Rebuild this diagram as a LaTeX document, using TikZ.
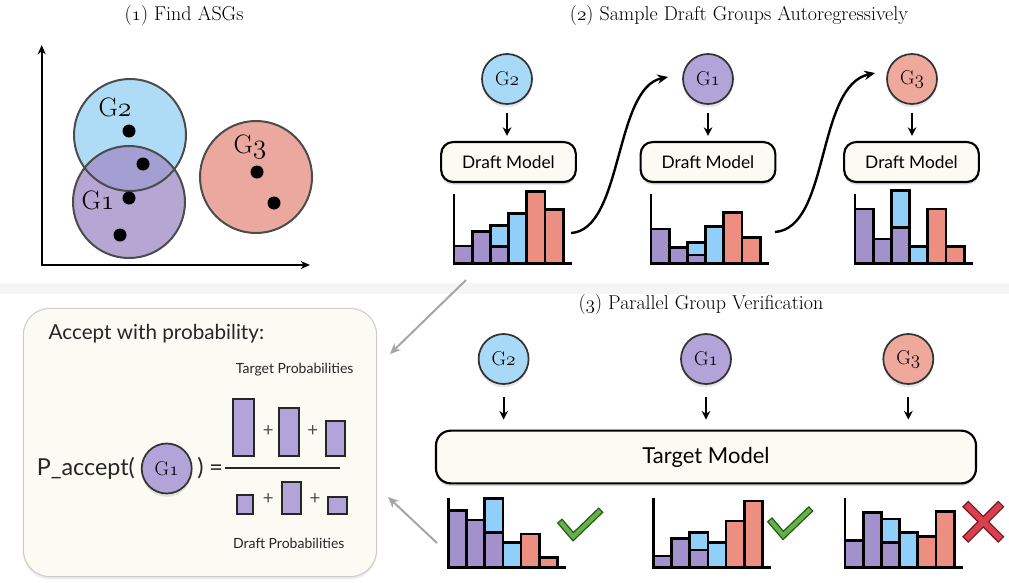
\documentclass[tikz,border=0pt]{standalone}
\usepackage{fontspec}
\setsansfont{Lato}
\usetikzlibrary{positioning,arrows.meta,shadows}
\definecolor{purp}{RGB}{163,145,204}
\definecolor{sky}{RGB}{143,207,250}
\definecolor{salm}{RGB}{236,143,128}
\definecolor{gblue}{RGB}{168,218,247}
\definecolor{gpurp}{RGB}{178,163,216}
\definecolor{gred}{RGB}{239,168,156}
\definecolor{pblue}{RGB}{174,220,246}
\definecolor{ppurp}{RGB}{162,144,201}
\definecolor{pred}{RGB}{234,168,158}
\definecolor{cream}{RGB}{251,251,244}
\definecolor{okgreen}{RGB}{98,178,70}
\definecolor{okdark}{RGB}{40,85,30}
\definecolor{nored}{RGB}{216,64,80}
\definecolor{nodark}{RGB}{110,25,35}
\newcommand{\osf}[1]{{\usefont{OML}{lmm}{m}{it}#1}}
% histogram: axis corner (#1,#2), bars as index/colour/height
\newcommand{\hist}[3]{%
  \foreach \i/\col/\h in {#3}
    \draw[hbar,fill=\col] ({#1+\i*18.2},#2) rectangle ++(18.2,-\h);
  \draw[haxis] (#1,#2-69) -- (#1,#2) -- (#1+118,#2);}
\newcommand{\okmark}[1]{\draw[okline] #1 -- ++(11.5,13.4) -- ++(25.5,-24.5);}

\begin{document}
\begin{tikzpicture}[x=0.75pt,y=-0.75pt,
 ttl/.style={font=\rmfamily\fontsize{15}{17}\selectfont},
 glbl/.style={font=\rmfamily\fontsize{20}{20}\selectfont},
 gnode/.style={circle,draw=black!80,line width=1.3pt,inner sep=0pt,minimum size=37.5pt,
   font=\rmfamily\fontsize{15}{15}\selectfont,
   drop shadow={opacity=0.2,shadow xshift=0pt,shadow yshift=-2.5pt}},
 model/.style={draw,line width=1.6pt,fill=cream,rounded corners=9pt,minimum width=101pt,
   minimum height=30pt,font=\sffamily\fontsize{13}{15}\selectfont,
   drop shadow={opacity=0.3,shadow xshift=0pt,shadow yshift=-2pt}},
 panel/.style={draw=black!20,line width=0.8pt,fill=cream,rounded corners=20pt,
   minimum width=265pt,minimum height=201.3pt,
   drop shadow={opacity=0.15,shadow xshift=0pt,shadow yshift=-2pt}},
 ring/.style={draw=black!70,line width=1.5pt},
 hbar/.style={draw=black,line width=2pt},
 haxis/.style={draw=black,line width=2pt,line join=miter},
 fbar/.style={draw=black!85,line width=1.4pt,fill=gpurp},
 down/.style={-{Stealth[length=6.5pt,width=6.5pt]},line width=1.5pt},
 flow/.style={-{Stealth[length=8pt,width=7pt]},line width=1.8pt},
 hint/.style={-{Stealth[length=8pt,width=7pt]},draw=black!35,line width=1.5pt},
 okline/.style={draw=okdark,double=okgreen,double distance=3.2pt,line width=1pt,line cap=rect,line join=miter},
 noline/.style={draw=nodark,double=nored,double distance=4.5pt,line width=1pt,line cap=rect},
 txt/.style={text=black!85},
 big/.style={font=\sffamily\fontsize{17.5}{19}\selectfont},
 small/.style={font=\sffamily\fontsize{10.5}{12}\selectfont},
 plus/.style={text=black!70,font=\sffamily\fontsize{14}{14}\selectfont,inner sep=0pt}]
\useasboundingbox (0,0) rectangle (1009,582);
\fill[black!4] (0,283) rectangle (1009,294);

% (1) find ASGs
\node[ttl] (t1) at (184,16) {(\osf{1}) Find ASGs};
\fill[pblue] (130,135) circle (56);
\fill[ppurp,fill opacity=0.8] (129,202) circle (56);
\fill[pred] (256,177) circle (56);
\draw[ring] (130,135) circle (56) (129,202) circle (56) (256,177) circle (56);
\foreach \x/\y in {129/131,143/164,129/198,120/235,257/172,274/203}
  \fill (\x,\y) circle (6.5);
\node[glbl] (l2) at (115,107) {G\osf{2}};
\node[glbl] (l1) at (98,200) {G\osf{1}};
\node[glbl] (l3) at (250,147) {G\osf{3}};
\draw[{Stealth[length=7pt,width=6pt]}-{Stealth[length=7pt,width=6pt]},line width=1.6pt,line join=miter]
  (41.7,45) -- (41.7,265) -- (310,265);

% (2) draft groups
\node[ttl] (t2) at (739,16) {(\osf{2}) Sample Draft Groups Autoregressively};
\node[gnode,fill=gblue] (g2a) at (507,79) {G\osf{2}};
\node[gnode,fill=gpurp] (g1a) at (708,79) {G\osf{1}};
\node[gnode,fill=gred] (g3a) at (912,79) {G\osf{3}};
\node[model] (dm1) at (508.5,162) {Draft Model};
\node[model] (dm2) at (708,162) {Draft Model};
\node[model] (dm3) at (911.5,162) {Draft Model};
\foreach \a/\b in {g2a/dm1,g1a/dm2,g3a/dm3}
  \draw[down,shorten <=6pt,shorten >=3.75pt] (\a) -- (\a |- \b.north);
\hist{454}{263.3}{0/purp/17.3,1/purp/31.6,2/sky/37.6,2/purp/16.6,3/sky/50,4/salm/71.6,5/salm/54}
\hist{651}{263.3}{0/purp/34.3,1/purp/16,2/sky/21,2/purp/8.3,3/sky/36.6,4/salm/51,5/salm/26}
\hist{855}{263.3}{0/purp/54.3,1/purp/24.3,2/sky/72.6,2/purp/36,3/sky/16.6,4/salm/54.3,5/salm/16.6}
\coordinate (d1) at (571,233);
\coordinate (e1) at (668,77);
\coordinate (d2) at (775,232);
\coordinate (e2) at (875,73);
\draw[flow] (d1) .. controls (623,230) and (614,88) .. (e1);
\draw[flow] (d2) .. controls (830,228) and (816,86) .. (e2);

% (3) verification
\node[ttl] (t3) at (701,305) {(\osf{3}) Parallel Group Verification};
\node[gnode,fill=gblue] (g2b) at (503.6,359) {G\osf{2}};
\node[gnode,fill=gpurp] (g1b) at (706,359) {G\osf{1}};
\node[gnode,fill=gred] (g3b) at (908.3,359) {G\osf{3}};
\node[model,minimum width=405pt,minimum height=39.5pt,rounded corners=11pt,
  font=\sffamily\fontsize{16.5}{18}\selectfont] (tm) at (706,457) {Target Model};
\foreach \a in {g2b,g1b,g3b}
  \draw[down,shorten <=9pt,shorten >=7.5pt] (\a) -- (\a |- tm.north);
\hist{448.3}{567.3}{0/purp/56.6,1/purp/47.3,2/sky/69,2/purp/34.6,3/sky/25,4/salm/33.3,5/salm/9.6}
\hist{653.3}{567.3}{0/purp/11.3,1/purp/29,2/sky/35,2/purp/17.3,3/sky/24.6,4/salm/46.3,5/salm/66.3}
\hist{845}{567.3}{0/purp/26.6,1/purp/55,2/sky/48.3,2/purp/24.6,3/sky/35,4/salm/30.6,5/salm/55.6}
\okmark{(561.7,523.3)}
\okmark{(771.7,522)}
\draw[noline] (968.3,506.7) -- (998.3,536.7) (968.3,536.7) -- (998.3,506.7);

% acceptance rule
\node[panel] (accbox) at (200,442.5) {};
\node[txt,anchor=west,font=\sffamily\fontsize{15.5}{17}\selectfont] (acc) at (44,333.3) {Accept with probability:};
\node[txt,small] (tprob) at (294.7,370) {Target Probabilities};
\node[txt,small] (dprob) at (288.8,543.3) {Draft Probabilities};
\node[gnode,fill=gpurp] (gacc) at (166.7,468.5) {G\osf{1}};
\node[txt,big,left=1pt of gacc] (pacc) {P\_accept(};
\node[txt,big,right=0pt of gacc] (eq) {) =};
\draw[line width=1.5pt,black!85] (225,468.3) -- (340,468.3);
\draw[fbar] (233.3,399.3) rectangle (254,455.7);
\draw[fbar] (279.3,408.3) rectangle (299.3,455.7);
\draw[fbar] (326,420.7) rectangle (345,455.7);
\draw[fbar] (236.7,495) rectangle (253.3,514.3);
\draw[fbar] (281.7,481.7) rectangle (301,514.3);
\draw[fbar] (328.3,496.7) rectangle (346.7,514.3);
\node[plus] (p1) at (268.3,430.7) {+};
\node[plus] (p2) at (312.7,430.7) {+};
\node[plus] (p3) at (268.3,499.3) {+};
\node[plus] (p4) at (315,499.3) {+};
\coordinate (h1) at (466,280);
\coordinate (h1e) at (390,354);
\coordinate (h2) at (437,543);
\coordinate (h2e) at (388,497);
\draw[hint] (h1) -- (h1e);
\draw[hint] (h2) -- (h2e);
\end{tikzpicture}
\end{document}
